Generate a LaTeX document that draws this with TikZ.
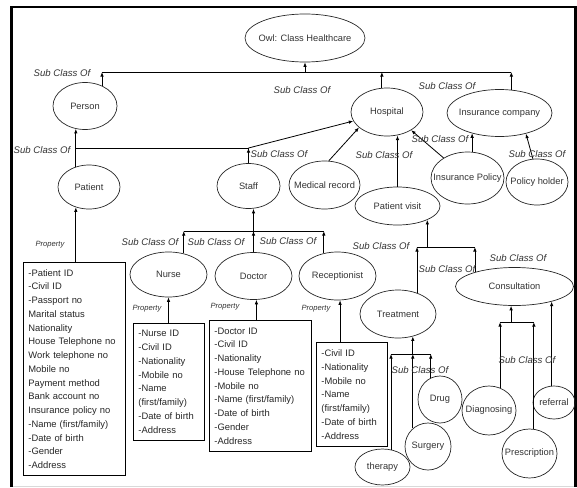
\documentclass[tikz,border=0pt]{standalone}
\usepackage{fontspec}
\setmainfont{Liberation Sans}
\usetikzlibrary{shapes.geometric, arrows.meta, positioning, calc}
\newcommand{\nodeFontSize}{\fontsize{9.3}{11}\selectfont}
\newcommand{\boxFontSize}{\fontsize{9.4}{13.75}\selectfont}
\newcommand{\ctext}[1]{\makebox[0pt]{#1}}
\tikzstyle{concept}=[ellipse, draw=black!85, line width=0.7pt, inner sep=0pt, font=\nodeFontSize, text=black!80]
\tikzstyle{propBox}=[draw, line width=0.8pt, anchor=north west, align=left, inner xsep=5pt, inner ysep=0pt, font=\boxFontSize, text=black!85]
\tikzstyle{arrow}=[-{Latex[length=4.5pt,width=3.5pt]}, line width=0.8pt]
\tikzstyle{busLine}=[line width=0.8pt]
\tikzstyle{subLabel}=[font=\itshape\fontsize{9.6}{11}\selectfont, text=black!80, inner sep=0pt]
\tikzstyle{propLabel}=[font=\itshape\fontsize{7.6}{9}\selectfont, text=black!80, inner sep=0pt]

\begin{document}
\begin{tikzpicture}[x=1pt, y=-1pt]
    \useasboundingbox (0,0) rectangle (577,487);
    % frame
    \draw[black!15, line width=1pt] (11.5,486) -- (575.5,486);
    \draw[line width=2.5pt] (11.5,487) -- (11.5,7) -- (575.5,7) -- (575.5,487);

    % classes
    \node[concept, minimum width=120pt, minimum height=48pt] (owl) at (305,38) {\ctext{Owl: Class Healthcare}};
    \node[concept, minimum width=64pt, minimum height=47pt] (person) at (85,106) {\ctext{Person}};
    \node[concept, minimum width=72pt, minimum height=48pt] (hospital) at (387,112) {\ctext{Hospital}};
    \node[concept, minimum width=105pt, minimum height=47pt] (insco) at (499.5,113) {\ctext{Insurance company}};
    \node[concept, minimum width=62pt, minimum height=44pt] (patient) at (89,187) {\ctext{Patient}};
    \node[concept, minimum width=63pt, minimum height=45pt] (staff) at (248.5,186) {\ctext{Staff}};
    \node[concept, minimum width=71pt, minimum height=48pt] (medrec) at (324.5,185) {\ctext{Medical record}};
    \node[concept, minimum width=85pt, minimum height=38pt] (pvisit) at (397.5,206) {\ctext{Patient visit}};
    \node[concept, minimum width=73pt, minimum height=52pt] (inspol) at (467.5,178) {\ctext{Insurance Policy}};
    \node[concept, minimum width=62pt, minimum height=46pt] (polholder) at (537,182) {\ctext{Policy holder}};
    \node[concept, minimum width=77pt, minimum height=45pt] (nurse) at (168.5,274.5) {\ctext{Nurse}};
    \node[concept, minimum width=77pt, minimum height=47pt] (doctor) at (253.5,276) {\ctext{Doctor}};
    \node[concept, minimum width=77pt, minimum height=48pt] (receptionist) at (337.5,276) {\ctext{Receptionist}};
    \node[concept, minimum width=76pt, minimum height=48pt] (treatment) at (398,314) {\ctext{Treatment}};
    \node[concept, minimum width=118pt, minimum height=38pt] (consult) at (514.5,286.5) {\ctext{Consultation}};
    \node[concept, minimum width=44pt, minimum height=47pt] (drug) at (440,399.5) {\ctext{Drug}};
    \node[concept, minimum width=46pt, minimum height=47pt] (surgery) at (428,446.5) {\ctext{Surgery}};
    \node[concept, minimum width=55pt, minimum height=36pt] (therapy) at (382.5,467) {\ctext{therapy}};
    \node[concept, minimum width=54pt, minimum height=49pt] (diagnosing) at (489,410.5) {\ctext{Diagnosing}};
    \node[concept, minimum width=55pt, minimum height=49pt] (prescription) at (529.5,453.5) {\ctext{Prescription}};
    \node[concept, minimum width=42pt, minimum height=33pt] (referral) at (554,402.5) {\ctext{referral}};

    % property boxes
    \node[propBox, text width=92pt, minimum height=213pt] (patientBox) at (23,262) {%
      -Patient ID\\-Civil ID\\-Passport no\\Marital status\\Nationality\\House Telephone no\\%
      Work telephone no\\Mobile no\\Payment method\\Bank account no\\Insurance policy no\\%
      -Name (first/family)\\-Date of birth\\-Gender\\-Address};
    \node[propBox, text width=61pt, minimum height=117pt] (nurseBox) at (133,323) {%
      -Nurse ID\\-Civil ID\\-Nationality\\-Mobile no\\-Name\\(first/family)\\-Date of birth\\-Address};
    \node[propBox, text width=92pt, minimum height=131pt] (doctorBox) at (209,320) {%
      -Doctor ID\\-Civil ID\\-Nationality\\-House Telephone no\\-Mobile no\\%
      -Name (first/family)\\-Date of birth\\-Gender\\-Address};
    \node[propBox, text width=61pt, minimum height=104pt] (receptionistBox) at (316,342) {%
      -Civil ID\\-Nationality\\-Mobile no\\-Name\\(first/family)\\-Date of birth\\-Address};

    % top level
    \coordinate (topBus) at (0,72);
    \draw[busLine] (person.50 |- topBus) -- (insco.63 |- topBus);
    \draw[arrow] (person.50) -- (person.50 |- topBus);
    \draw[arrow] (hospital.102) -- (hospital.102 |- topBus);
    \draw[arrow] (insco.63) -- (insco.63 |- topBus);
    \draw[arrow] (owl.south |- topBus) -- (owl.south);

    % person and hospital
    \coordinate (personBus) at (0,148);
    \draw[arrow] (patient.123) -- (patient.123 |- person.248);
    \draw[busLine] (patient.123 |- personBus) -- (staff.north |- personBus);
    \draw[arrow] (staff.north) -- (staff.north |- personBus);
    \draw[arrow] (staff.north |- personBus) -- (hospital.195);
    \draw[arrow] (medrec.80) -- (hospital.209);
    \draw[arrow] (pvisit.north) -- (pvisit.north |- hospital.291);
    \draw[arrow] (inspol.140) -- (hospital.323);
    \draw[arrow] (inspol.80) -- (inspol.80 |- insco.216);
    \draw[arrow] (polholder.100) -- (insco.322);

    % staff
    \coordinate (staffBus) at (0,231);
    \draw[busLine] (nurse.54 |- staffBus) -- (receptionist.121 |- staffBus);
    \draw[arrow] (nurse.54) -- (nurse.54 |- staffBus);
    \draw[arrow] (doctor.north) -- (doctor.north |- staffBus);
    \draw[arrow] (receptionist.121) -- (receptionist.121 |- staffBus);
    \draw[arrow] (doctor.north |- staffBus) -- (doctor.north |- staff.south);

    % patient visit
    \coordinate (visitBus) at (0,247);
    \draw[busLine] (treatment.48 |- visitBus) -- (consult.160 |- visitBus);
    \draw[arrow] (treatment.48) -- (treatment.48 |- visitBus);
    \draw[arrow] (consult.160) -- (consult.160 |- visitBus);
    \draw[arrow] (pvisit.335 |- visitBus) -- (pvisit.335);

    % treatment
    \coordinate (treatBus) at (0,354);
    \draw[busLine] (therapy.64 |- treatBus) -- (drug.113 |- treatBus);
    \draw[arrow] (therapy.64) -- (therapy.64 |- treatBus);
    \draw[arrow] (surgery.130) -- (surgery.130 |- treatBus);
    \draw[arrow] (drug.113) -- (drug.113 |- treatBus);
    \draw[arrow] (surgery.130 |- treatBus) -- (surgery.130 |- treatment.304);

    % consultation
    \coordinate (consultBus) at (0,322);
    \draw[busLine] (diagnosing.64 |- consultBus) -- (prescription.80 |- consultBus);
    \draw[arrow] (diagnosing.64) -- (diagnosing.64 |- consultBus);
    \draw[arrow] (prescription.80) -- (prescription.80 |- consultBus);
    \draw[arrow] (consult.260 |- consultBus) -- (consult.260);
    \draw[arrow] (referral.98) -- (referral.98 |- consult.338);

    % properties
    \draw[arrow] (patientBox.north -| patient.237) -- (patient.237);
    \draw[arrow] (nurseBox.north -| nurse.south) -- (nurse.south);
    \draw[arrow] (doctorBox.north -| doctor.277) -- (doctor.277);
    \draw[arrow] (receptionistBox.north -| receptionist.276) -- (receptionist.276);

    % labels
    \node[subLabel] (scPerson) at (62,73) {Sub Class Of};
    \node[subLabel] (scHospital) at (302,90) {Sub Class Of};
    \node[subLabel] (scInsco) at (447,86) {Sub Class Of};
    \node[subLabel] (scPatient) at (42,150) {Sub Class Of};
    \node[subLabel] (scStaff) at (279,154) {Sub Class Of};
    \node[subLabel] (scVisit) at (384,155) {Sub Class Of};
    \node[subLabel] (scPolicy) at (440,139) {Sub Class Of};
    \node[subLabel] (scHolder) at (537,154) {Sub Class Of};
    \node[subLabel] (scNurse) at (150,242) {Sub Class Of};
    \node[subLabel] (scDoctor) at (216,242) {Sub Class Of};
    \node[subLabel] (scReceptionist) at (288,241) {Sub Class Of};
    \node[subLabel] (scTreatment) at (381,246) {Sub Class Of};
    \node[subLabel] (scConsult) at (447,269) {Sub Class Of};
    \node[subLabel] (scConsultTop) at (518,258) {Sub Class Of};
    \node[subLabel] (scTreatKids) at (420,370) {Sub Class Of};
    \node[subLabel] (scConsultKids) at (527,360) {Sub Class Of};
    \node[propLabel] (prPatient) at (50,245) {Property};
    \node[propLabel] (prNurse) at (147,309) {Property};
    \node[propLabel] (prDoctor) at (225,307) {Property};
    \node[propLabel] (prReceptionist) at (316,309) {Property};
\end{tikzpicture}
\end{document}
